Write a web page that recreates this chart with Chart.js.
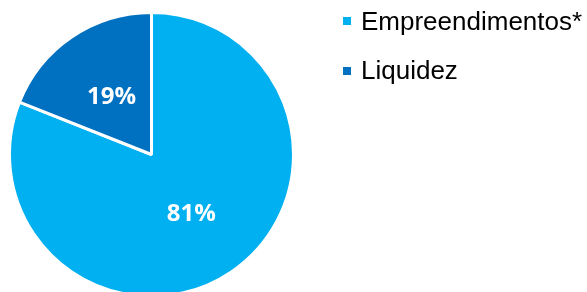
<!DOCTYPE html>
<html lang="pt">
<head>
  <meta charset="UTF-8">
  <title>Empreendimentos x Liquidez</title>
  <style>
    html, body {
      margin: 0;
      padding: 0;
      width: 587px;
      height: 292px;
      overflow: hidden;
      background: #ffffff;
    }
    .chart-box {
      position: absolute;
      left: 0;
      top: 0;
      width: 587px;
      height: 310px;
    }
    .legend {
      position: absolute;
      left: 343px;
      top: 0;
      margin: 0;
      padding: 0;
      list-style: none;
      font-family: "Liberation Sans", Arial, sans-serif;
      font-size: 26px;
      line-height: 26px;
      color: #000000;
    }
    .legend li {
      position: absolute;
      left: 0;
      white-space: nowrap;
    }
    .legend .box {
      position: absolute;
      left: 0;
      width: 8px;
      height: 8px;
    }
    .legend .txt {
      position: absolute;
      left: 18px;
      top: 0;
    }
  </style>
</head>
<body>
  <div class="chart-box">
    <canvas id="pieChart"></canvas>
  </div>
  <ul class="legend" id="legend"></ul>

  <script src="https://cdn.jsdelivr.net/npm/chart.js"></script>
  <script>
    const labels = ['Empreendimentos*', 'Liquidez'];
    const values = [81, 19];
    const colors = ['#00B0F0', '#0070C0'];

    // percent labels in the middle of each slice
    const sliceLabels = {
      id: 'sliceLabels',
      afterDatasetsDraw(chart) {
        const ctx = chart.ctx;
        const meta = chart.getDatasetMeta(0);
        ctx.save();
        ctx.font = 'bold 24px "Open Sans", sans-serif';
        ctx.fillStyle = '#ffffff';
        ctx.textAlign = 'center';
        ctx.textBaseline = 'middle';
        meta.data.forEach((arc, i) => {
          const p = arc.getCenterPoint();
          ctx.fillText(values[i] + '%', p.x, p.y + 1);
        });
        ctx.restore();
      }
    };

    new Chart(document.getElementById('pieChart'), {
      type: 'pie',
      data: {
        labels: labels,
        datasets: [{
          data: values,
          backgroundColor: colors,
          borderColor: '#ffffff',
          borderWidth: 3
        }]
      },
      options: {
        responsive: true,
        maintainAspectRatio: false,
        animation: false,
        layout: {
          padding: { left: 8, top: 11, right: 292, bottom: 12 }
        },
        plugins: {
          legend: { display: false },
          tooltip: { enabled: false }
        }
      },
      plugins: [sliceLabels]
    });

    // legend rows
    const rowTops = [8, 57];
    const boxTops = [9, 10];
    const legend = document.getElementById('legend');
    labels.forEach((name, i) => {
      const li = document.createElement('li');
      li.style.top = rowTops[i] + 'px';
      li.innerHTML = '<span class="box" style="top:' + boxTops[i] + 'px;background:' + colors[i] + '"></span>' +
        '<span class="txt">' + name + '</span>';
      legend.appendChild(li);
    });
  </script>
</body>
</html>
